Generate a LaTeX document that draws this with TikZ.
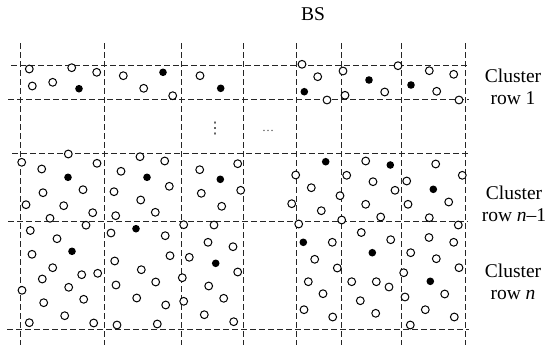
\documentclass[tikz,border=0pt]{standalone}
\usepackage{fontspec}
\setmainfont{Liberation Serif}
\newfontfamily\dvsans{DejaVu Sans}
\begin{document}
\begin{tikzpicture}[x=1pt,y=-1pt,
  grid/.style={draw=black!85,line width=0.9pt,dash pattern=on 6pt off 3pt},
  node/.style={draw=black,line width=1pt,fill=white},
  head/.style={fill=black},
  lbl/.style={font=\fontsize{19.5}{22}\selectfont,align=center,inner sep=0pt}]
\useasboundingbox (0,0) rectangle (550,351);
% grid
\foreach \x in {20,104,181,243.5,296,341,401,465.5}
  \draw[grid] (\x,43) -- (\x,345);
\draw[grid] (11,65) -- (469,65);
\draw[grid] (8,99.5) -- (469,99.5);
\draw[grid] (12,153.5) -- (469,153.5);
\draw[grid] (8,221.5) -- (468,221.5);
\draw[grid] (7,329.5) -- (469,329.5);
% ordinary nodes
\foreach \p in {
 (29.3,69),(71.7,67.7),(96.7,72.3),(32.3,86),(52.7,82.3),(123.3,75.7),(143.7,88.3),(172.7,95.7),(200,75.7),
 (302,64.3),(317.7,76.7),(327,100),(343,71),(345,95.3),(384.7,92),(398,65.7),(429.3,70.7),(436.7,91.3),(453.7,74.3),(459,100),
 (68.3,154),(21.7,162.3),(41.7,169),(97,163.3),(43,192.7),(83,189.7),(26,204.7),(63.7,205.7),(92.7,212.7),(50,218.3),
 (140,156.7),(164.7,161),(121,171.3),(169.3,186.3),(114,191.7),(140.7,200),(155.3,212.3),(115.7,215.7),
 (199.7,169.7),(237.7,163.7),(240.7,190.3),(201.3,193.3),(221.7,206.3),
 (365.7,161),(435.7,164),(295.7,175),(346.7,175.3),(373,181.7),(406.7,181),(462.3,175.3),(311.3,187.7),(395,190.3),(340,195.7),(291.7,203.7),(365.7,204.3),(408,204.3),(448.7,202),(321.3,210.7),(380.7,217),(341.7,220),(429.3,217.7),
 (30.3,230.5),(86,225.2),(57,238.7),(32,254.3),(52.7,267.7),(81.7,274.7),(97.7,273.3),(42.3,279),(68.7,287.3),(22,290.3),(43.7,302.7),(83.7,299.3),(64.7,315.7),(29.3,322.7),(93.7,323),
 (111,233),(165.2,235.7),(170,255.7),(114.7,261),(141.3,269.7),(155.7,282),(116,285),(136.7,298),(165.7,305),(117,325),(157.3,324),
 (183.7,224.7),(214,225),(208,242.3),(233,246.7),(189.3,257.3),(237.7,272),(182.3,277.7),(208.7,286),(223.7,298.3),(183.7,301.3),(204.3,314.7),(233.7,321.7),
 (298.7,224),(458.3,225),(332.3,242.3),(361.3,232.5),(390.7,239.7),(429,237.5),(453.7,242.3),(314.7,259.3),(410.7,252.7),(436.3,258.7),(337.3,268),(459,267.7),(403.7,272.7),(308.3,281.7),(351.7,281.7),(376.3,281.7),(389,287),(323,293.7),(405,297),(444.7,294),(360.3,300.7),(304,309.7),(332.7,317),(375.7,313.3),(425.3,309.7),(454.3,317),(410.3,325)}
  \draw[node] \p circle[radius=3.9];
% cluster heads
\foreach \p in {(79,88.7),(163,72.3),(220.7,88.3),(304.3,91.7),(369,80),(411,85),
 (68,177.3),(147,177.3),(220.3,179.3),(325.7,161.7),(390.3,165),(433.3,189.3),
 (72,251.3),(136,228.7),(215.7,263.3),(303.3,242.3),(372.3,252.7),(430.3,281.3)}
  \fill[head] \p circle[radius=3.8];
% labels
\node[lbl] (bs) at (313,14) {BS};
\node[lbl] (r1) at (513,87) {Cluster\\row 1};
\node[lbl] (rn1) at (514,204) {Cluster\\row \textit{n}–1};
\node[lbl] (rn) at (513,281.5) {Cluster\\row \textit{n}};
\node[inner sep=0pt,font=\dvsans\fontsize{16}{16}\selectfont,text=black!75] (vd) at (215,128.5) {⋮};
\node[inner sep=0pt,font=\fontsize{12}{12}\selectfont,text=black!75] (hd) at (268,131) {…};
\end{tikzpicture}
\end{document}
